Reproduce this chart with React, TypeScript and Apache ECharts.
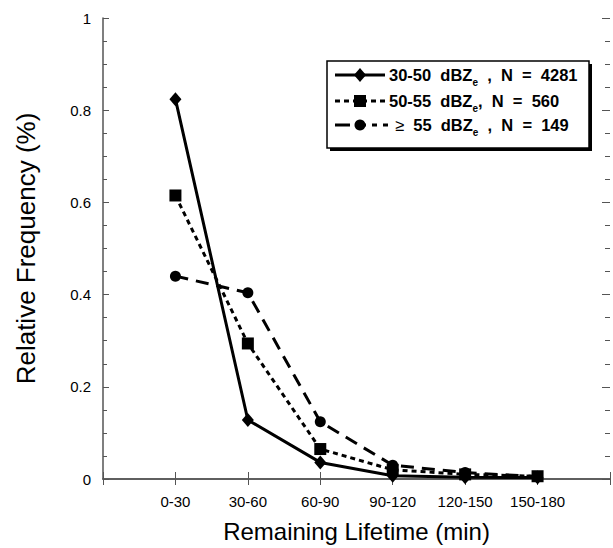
import React, { useEffect, useRef } from "react";
import * as echarts from "echarts";

const categories = ["0-30", "30-60", "60-90", "90-120", "120-150", "150-180"];
const dbz3050 = [0.824, 0.128, 0.036, 0.007, 0.004, 0.003];
const dbz5055 = [0.615, 0.294, 0.065, 0.02, 0.01, 0.006];
const dbz55 = [0.44, 0.404, 0.124, 0.03, 0.014, 0.005];
const yTicks = [0, 0.2, 0.4, 0.6, 0.8, 1];

const FONT = "Liberation Sans, Arial, sans-serif";
const AXIS_COLOR = "#555";

export default function App() {
  const ref = useRef<HTMLDivElement>(null);
  useEffect(() => {
    document.body.style.margin = "0";
    const chart = echarts.init(ref.current!, null, { renderer: "svg" });
    const xCats = ["", ...categories, ""];
    const pad = (a: number[]) => [null, ...a, null];
    const yMin = yTicks[0];
    const yMax = yTicks[yTicks.length - 1];
    const yInt = yTicks[1] - yTicks[0];

    const r1 = 75, r2 = 101, r3 = 125;
    const richMain = { fontSize: 16.5, fontWeight: "bold", fontFamily: FONT, lineHeight: 24, fill: "#000" };
    const richSub = { fontSize: 10, fontWeight: "bold", fontFamily: FONT, lineHeight: 12, verticalAlign: "bottom", fill: "#000" };
    const richThin = { fontSize: 16.5, fontWeight: "normal", fontFamily: FONT, lineHeight: 24, fill: "#000" };

    chart.setOption({
      animation: false,
      backgroundColor: "#fff",
      grid: { left: 103, top: 18, width: 513, height: 462, containLabel: false },
      xAxis: [
        {
          type: "category",
          data: xCats,
          boundaryGap: false,
          position: "bottom",
          axisLine: { lineStyle: { color: AXIS_COLOR, width: 1.5 } },
          axisTick: { inside: true, length: 7, lineStyle: { color: AXIS_COLOR, width: 1 } },
          axisLabel: { color: "#000", fontSize: 15, fontFamily: FONT, margin: 15, interval: 0 },
          splitLine: { show: false },
          name: "Remaining Lifetime (min)",
          nameLocation: "middle",
          nameGap: 40,
          nameTextStyle: { color: "#000", fontSize: 24, fontFamily: FONT },
        },
        {
          type: "category",
          data: xCats,
          boundaryGap: false,
          position: "top",
          axisLine: { lineStyle: { color: AXIS_COLOR, width: 1.5 } },
          axisTick: { inside: true, length: 6, lineStyle: { color: AXIS_COLOR, width: 1 } },
          axisLabel: { show: false },
          splitLine: { show: false },
        },
      ],
      yAxis: [
        {
          type: "value",
          min: yMin,
          max: yMax,
          interval: yInt,
          position: "left",
          axisLine: { show: true, lineStyle: { color: AXIS_COLOR, width: 1.5 } },
          axisTick: { show: true, inside: true, length: 6, lineStyle: { color: AXIS_COLOR, width: 1 } },
          minorTick: { show: true, splitNumber: 4, length: 4, lineStyle: { color: AXIS_COLOR, width: 1 } },
          axisLabel: { color: "#000", fontSize: 15, fontFamily: FONT, margin: 12 },
          splitLine: { show: false },
          name: "Relative Frequency (%)",
          nameLocation: "middle",
          nameRotate: 90,
          nameGap: 64,
          nameTextStyle: { color: "#000", fontSize: 26, fontFamily: FONT },
        },
        {
          type: "value",
          min: yMin,
          max: yMax,
          interval: yInt,
          position: "right",
          axisLine: { show: false },
          axisTick: { show: true, inside: true, length: 8, lineStyle: { color: AXIS_COLOR, width: 1 } },
          minorTick: { show: true, splitNumber: 4, length: 5, lineStyle: { color: AXIS_COLOR, width: 1 } },
          axisLabel: { show: false },
          splitLine: { show: false },
        },
      ],
      series: [
        {
          name: "30-50 dBZe, N = 4281",
          type: "line",
          data: pad(dbz3050),
          symbol: "diamond",
          symbolSize: [12, 14],
          lineStyle: { color: "#000", width: 3, type: "solid" },
          itemStyle: { color: "#000" },
        },
        {
          name: "≥ 55 dBZe, N = 149",
          type: "line",
          data: pad(dbz55),
          symbol: "circle",
          symbolSize: 11,
          lineStyle: { color: "#000", width: 3, type: [13, 8] },
          itemStyle: { color: "#000" },
        },
        {
          name: "50-55 dBZe, N = 560",
          type: "line",
          data: pad(dbz5055),
          symbol: "rect",
          symbolSize: 12,
          lineStyle: { color: "#000", width: 3, type: [5, 4] },
          itemStyle: { color: "#000" },
        },
      ],
      graphic: [
        { type: "rect", shape: { x: 330, y: 64, width: 262, height: 87 }, style: { fill: "#000" }, z: 100 },
        { type: "rect", shape: { x: 327, y: 61, width: 262, height: 87 }, style: { fill: "#fff", stroke: "#000", lineWidth: 1.5 }, z: 101 },
        // row 1
        { type: "line", shape: { x1: 335, y1: r1, x2: 385, y2: r1 }, style: { stroke: "#000", lineWidth: 3 }, z: 102 },
        { type: "polygon", shape: { points: [[360, r1 - 7], [366, r1], [360, r1 + 7], [354, r1]] }, style: { fill: "#000" }, z: 103 },
        {
          type: "text", x: 389, y: r1, z: 103,
          style: {
            text: "{a|30-50  dBZ}{s|e}{a|  ,  N  =  4281}",
            verticalAlign: "middle",
            rich: { a: richMain, s: richSub },
          },
        },
        // row 2
        { type: "line", shape: { x1: 335, y1: r2, x2: 385, y2: r2 }, style: { stroke: "#000", lineWidth: 3, lineDash: [5, 4] }, z: 102 },
        { type: "rect", shape: { x: 354, y: r2 - 6, width: 12, height: 12 }, style: { fill: "#000" }, z: 103 },
        {
          type: "text", x: 389, y: r2, z: 103,
          style: {
            text: "{a|50-55  dBZ}{s|e}{a|,  N  =  560}",
            verticalAlign: "middle",
            rich: { a: richMain, s: richSub },
          },
        },
        // row 3
        { type: "line", shape: { x1: 335, y1: r3, x2: 350, y2: r3 }, style: { stroke: "#000", lineWidth: 3 }, z: 102 },
        { type: "line", shape: { x1: 355, y1: r3, x2: 366, y2: r3 }, style: { stroke: "#000", lineWidth: 3 }, z: 102 },
        { type: "line", shape: { x1: 372, y1: r3, x2: 377, y2: r3 }, style: { stroke: "#000", lineWidth: 3 }, z: 102 },
        { type: "line", shape: { x1: 383, y1: r3, x2: 388, y2: r3 }, style: { stroke: "#000", lineWidth: 3 }, z: 102 },
        { type: "circle", shape: { cx: 360, cy: r3, r: 5.5 }, style: { fill: "#000" }, z: 103 },
        {
          type: "text", x: 395, y: r3, z: 103,
          style: {
            text: "{t|≥}{a|  55  dBZ}{s|e}{a|  ,  N  =  149}",
            verticalAlign: "middle",
            rich: { a: richMain, s: richSub, t: richThin },
          },
        },
      ],
    });
    return () => chart.dispose();
  }, []);
  return (
    <div
      ref={ref}
      style={{ position: "fixed", left: 0, top: 0, width: 613, height: 548, background: "#fff" }}
    />
  );
}
